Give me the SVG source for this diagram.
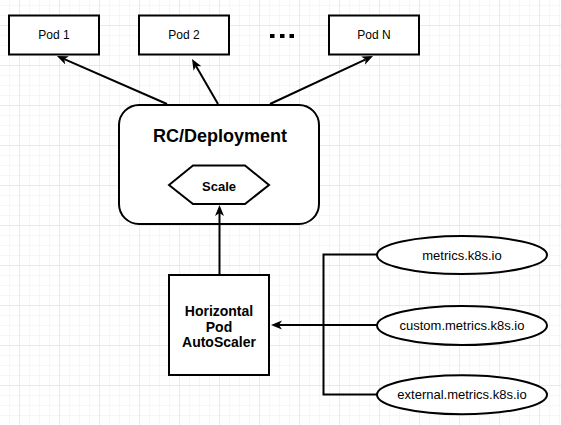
<svg xmlns="http://www.w3.org/2000/svg" width="561" height="425" viewBox="0 0 561 425">
  <defs>
    <pattern id="grid" patternUnits="userSpaceOnUse" x="19" y="25" width="40" height="40">
      <path d="M10.5,0V40M20.5,0V40M30.5,0V40M0,10.5H40M0,20.5H40M0,30.5H40" stroke="#f6f6f6" stroke-width="1" fill="none"/>
      <path d="M0.5,0V40M0,0.5H40" stroke="#e9e9e9" stroke-width="1" fill="none"/>
    </pattern>
    <marker id="arrow" markerUnits="userSpaceOnUse" markerWidth="12" markerHeight="10" viewBox="0 0 12 10" refX="3" refY="5" orient="auto">
      <path d="M11,5 L0,0.5 L3,5 L0,9.5 Z" fill="#000"/>
    </marker>
    <style>
      .box { fill: #fff; stroke: #000; stroke-width: 2; }
      .edge { fill: none; stroke: #000; stroke-width: 2; }
      .t { font-family: "Liberation Sans", Arial, sans-serif; fill: #000; text-anchor: middle; }
      .pod { font-size: 12px; }
      .met { font-size: 13px; }
      .b { font-weight: bold; }
    </style>
  </defs>
  <rect width="561" height="425" fill="#fff"/>
  <rect width="561" height="425" fill="url(#grid)"/>

  <g id="pod1">
    <rect class="box" x="9" y="15.5" width="90" height="39"/>
    <text class="t pod" x="54" y="39.3">Pod 1</text>
  </g>
  <g id="pod2">
    <rect class="box" x="139" y="15.5" width="90" height="39"/>
    <text class="t pod" x="184" y="39.3">Pod 2</text>
  </g>
  <g id="dots">
    <rect x="270" y="34" width="4.5" height="4" fill="#000"/>
    <rect x="280" y="34" width="4.5" height="4" fill="#000"/>
    <rect x="289.5" y="34" width="4.5" height="4" fill="#000"/>
  </g>
  <g id="podN">
    <rect class="box" x="329" y="15.5" width="90" height="39"/>
    <text class="t pod" x="374" y="39.3">Pod N</text>
  </g>

  <g id="deployment">
    <rect class="box" x="119" y="105" width="200" height="119" rx="20" ry="20"/>
    <text class="t b" x="220" y="141.7" font-size="18">RC/Deployment</text>
  </g>
  <g id="scale">
    <polygon class="box" stroke-width="1.7" points="169,185 193,165.5 245,165.5 269,185 245,204 193,204"/>
    <text class="t b" x="219" y="190.5" font-size="13">Scale</text>
  </g>

  <g id="hpa">
    <rect class="box" x="169" y="275" width="100" height="100"/>
    <text class="t b" x="219" y="315.5" font-size="14">Horizontal</text>
    <text class="t b" x="219" y="331.5" font-size="14">Pod</text>
    <text class="t b" x="219" y="347" font-size="14">AutoScaler</text>
  </g>

  <g id="metrics">
    <ellipse class="box" cx="462" cy="255" rx="85" ry="19"/>
    <text class="t met" x="462" y="259.5">metrics.k8s.io</text>
  </g>
  <g id="custom-metrics">
    <ellipse class="box" cx="462" cy="325.5" rx="85" ry="19.5"/>
    <text class="t met" x="462" y="329.5">custom.metrics.k8s.io</text>
  </g>
  <g id="external-metrics">
    <ellipse class="box" cx="462" cy="394.7" rx="85" ry="19.5"/>
    <text class="t met" x="462" y="399.3">external.metrics.k8s.io</text>
  </g>

  <g id="connectors">
    <line class="edge" x1="167" y1="104" x2="64.3" y2="59.2" marker-end="url(#arrow)"/>
    <line class="edge" x1="218" y1="104" x2="196" y2="65.9" marker-end="url(#arrow)"/>
    <line class="edge" x1="270" y1="104" x2="365.75" y2="59.4" marker-end="url(#arrow)"/>
    <line class="edge" x1="219.5" y1="275" x2="219.5" y2="213" marker-end="url(#arrow)"/>
    <line class="edge" x1="377" y1="325" x2="279" y2="325" marker-end="url(#arrow)"/>
    <polyline class="edge" points="377,254.5 323.5,254.5 323.5,394.5 377,394.5"/>
  </g>
</svg>
